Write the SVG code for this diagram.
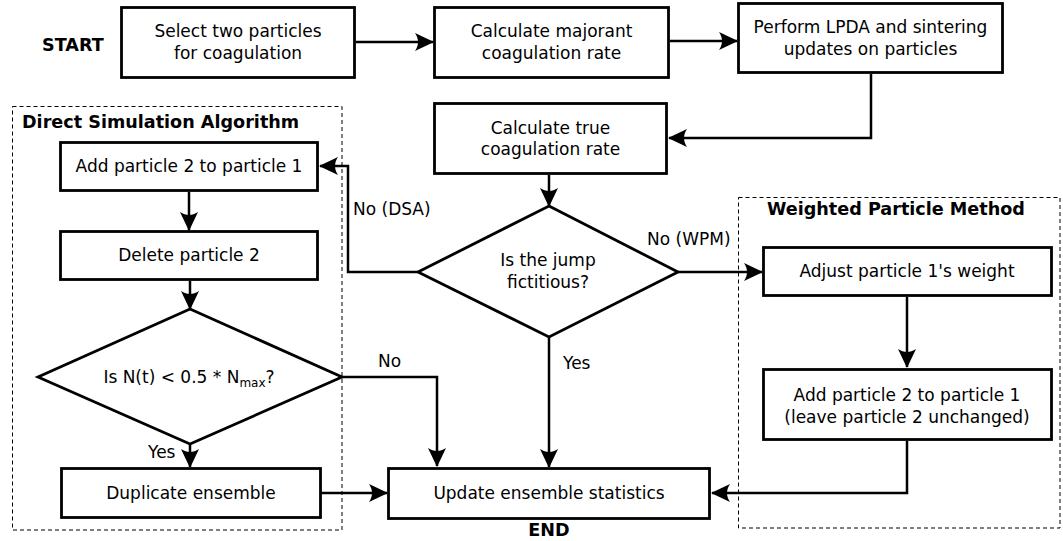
<svg xmlns="http://www.w3.org/2000/svg" width="1063" height="541" viewBox="0 0 1063 541">
<style>
.box{fill:#fff;stroke:#000;stroke-width:2.8}
.grp{fill:none;stroke:#000;stroke-width:1;stroke-dasharray:4,3}
.t{font-family:"DejaVu Sans",sans-serif;font-size:17px;fill:#000;text-anchor:middle}
.l{font-family:"DejaVu Sans",sans-serif;font-size:17px;fill:#000}
.b{font-family:"DejaVu Sans",sans-serif;font-size:17.6px;font-weight:bold;fill:#000}
.c{fill:none;stroke:#000;stroke-width:2.5;marker-end:url(#ah)}
</style>
<defs>
<marker id="ah" markerUnits="userSpaceOnUse" viewBox="0 -10 20 20" refX="19" refY="0" markerWidth="20" markerHeight="20" orient="auto">
<path d="M20,0 L1,-9 C5,-3 5,3 1,9 Z" fill="#000"/>
</marker>
</defs>

<g id="groups">
<rect class="grp" x="12.5" y="106.5" width="329.5" height="423.5"/>
<rect class="grp" x="738.5" y="197.5" width="321.5" height="330.5"/>
</g>

<g id="connectors">
<path class="c" d="M356,42 L433,42"/>
<path class="c" d="M670,41 L737,41"/>
<path class="c" d="M871,74 L871,138 L669,138"/>
<path class="c" d="M549,175 L549,206"/>
<path class="c" d="M418,272 L348,272 L348,166 L320,166"/>
<path class="c" d="M678,272 L762,272"/>
<path class="c" d="M549,337 L549,467"/>
<path class="c" d="M907,297 L907,367"/>
<path class="c" d="M907,441 L907,493 L712,493"/>
<path class="c" d="M189,192 L189,230"/>
<path class="c" d="M190,281 L190,309"/>
<path class="c" d="M190,444 L190,467"/>
<path class="c" d="M342,377 L437,377 L437,466"/>
<path class="c" d="M321,493 L387,493"/>
</g>

<g id="start"><text class="b" x="42" y="51">START</text></g>

<g id="select">
<rect class="box" x="121.5" y="7.5" width="233" height="70"/>
<text class="t" x="238" y="37">Select two particles</text>
<text class="t" x="238" y="59">for coagulation</text>
</g>

<g id="majorant">
<rect class="box" x="434.5" y="7.5" width="234" height="70"/>
<text class="t" x="551.5" y="37">Calculate majorant</text>
<text class="t" x="551.5" y="59">coagulation rate</text>
</g>

<g id="lpda">
<rect class="box" x="738.5" y="3.5" width="264" height="69"/>
<text class="t" x="870.5" y="33">Perform LPDA and sintering</text>
<text class="t" x="870.5" y="55">updates on particles</text>
</g>

<g id="truerate">
<rect class="box" x="434.5" y="103.5" width="232" height="70"/>
<text class="t" x="550.5" y="134">Calculate true</text>
<text class="t" x="550.5" y="155">coagulation rate</text>
</g>

<g id="fictitious">
<polygon class="box" points="549,206 678,272 549,337 418,272"/>
<text class="t" x="548" y="266">Is the jump</text>
<text class="t" x="548" y="288">fictitious?</text>
</g>

<g id="dsa-title"><text class="b" x="22" y="128">Direct Simulation Algorithm</text></g>

<g id="add1">
<rect class="box" x="60.5" y="142.5" width="257" height="48"/>
<text class="t" x="189" y="172">Add particle 2 to particle 1</text>
</g>

<g id="delete">
<rect class="box" x="60.5" y="231.5" width="257" height="48"/>
<text class="t" x="189" y="261">Delete particle 2</text>
</g>

<g id="nmax">
<polygon class="box" points="190,309 342,377 190,444 38,377"/>
<text class="t" x="189" y="383">Is N(t) &lt; 0.5 * N<tspan font-size="12" dy="4">max</tspan><tspan dy="-4">?</tspan></text>
</g>

<g id="duplicate">
<rect class="box" x="61.5" y="468.5" width="259" height="49"/>
<text class="t" x="191" y="499">Duplicate ensemble</text>
</g>

<g id="update">
<rect class="box" x="388.5" y="468.5" width="321" height="50"/>
<text class="t" x="549" y="499">Update ensemble statistics</text>
</g>

<g id="end"><text class="b" x="549" y="536" text-anchor="middle">END</text></g>

<g id="wpm-title"><text class="b" x="767" y="215">Weighted Particle Method</text></g>

<g id="adjust">
<rect class="box" x="763.5" y="247.5" width="288" height="48"/>
<text class="t" x="907" y="277">Adjust particle 1's weight</text>
</g>

<g id="add2">
<rect class="box" x="763.5" y="369.5" width="288" height="70"/>
<text class="t" x="907" y="401">Add particle 2 to particle 1</text>
<text class="t" x="907" y="423">(leave particle 2 unchanged)</text>
</g>

<g id="labels">
<text class="l" x="353" y="215">No (DSA)</text>
<text class="l" x="647" y="245">No (WPM)</text>
<text class="l" x="563" y="369">Yes</text>
<text class="l" x="378" y="367">No</text>
<text class="l" x="148" y="458">Yes</text>
</g>
</svg>
